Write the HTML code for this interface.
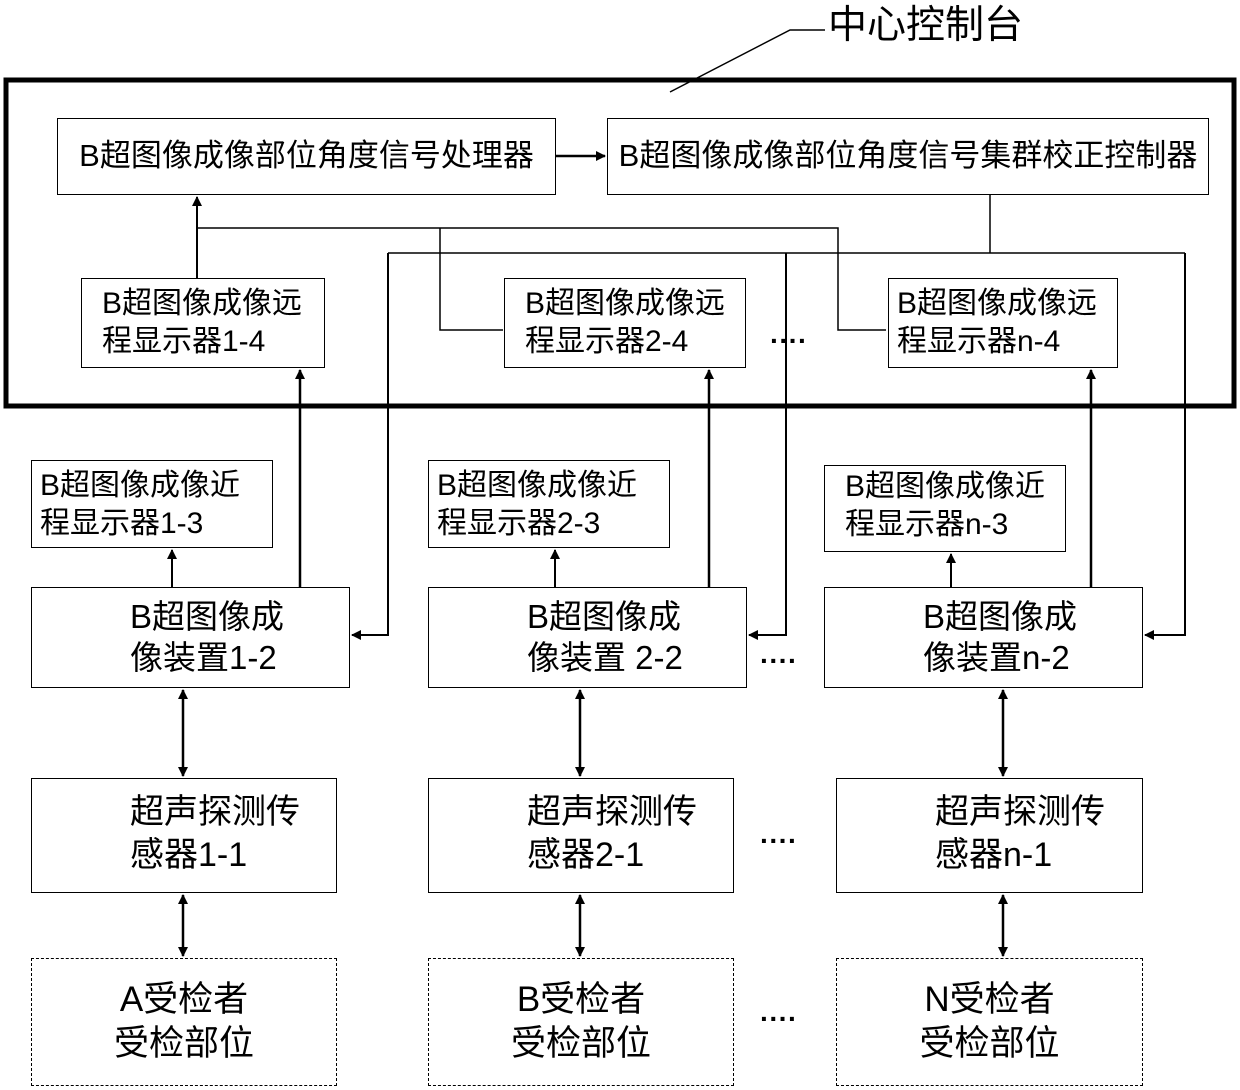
<!DOCTYPE html>
<html><head><meta charset="utf-8"><style>
body{margin:0;background:#fff;}
.b{position:absolute;border:1.5px solid #000;box-sizing:border-box;background:#fff;font-family:"Liberation Sans","Noto Sans CJK SC",sans-serif;color:#000;line-height:1.25;white-space:nowrap;}
.d{border-style:dashed;}
.c{display:flex;align-items:center;justify-content:center;}
</style></head><body>
<div style="position:relative;width:1240px;height:1090px;overflow:hidden;">
<svg width="1240" height="1090" style="position:absolute;left:0;top:0">
<defs><marker id="a" markerWidth="10" markerHeight="10" refX="9" refY="5" orient="auto-start-reverse" markerUnits="userSpaceOnUse"><path d="M0,0 L10,5 L0,10 z" fill="#000"/></marker></defs>
<rect x="6" y="80" width="1228" height="326" fill="none" stroke="#000" stroke-width="5"/>
<g stroke="#000" stroke-width="1.5" fill="none">
<path d="M670,92 L790,30 L825,30"/>
<line x1="556" y1="156" x2="605" y2="156" stroke-width="2.5" marker-end="url(#a)"/>
<line x1="197" y1="278" x2="197" y2="197" stroke-width="2" marker-end="url(#a)"/>
<path d="M197,228 L838,228 L838,330 L886,330"/>
<path d="M440,228 L440,330 L503,330"/>
<path d="M990,195 L990,253"/>
<path d="M388,253 L1185,253"/>
<path d="M388,253 L388,635 L352,635" marker-end="url(#a)" stroke-width="2"/>
<path d="M786,253 L786,635 L749,635" marker-end="url(#a)" stroke-width="2"/>
<path d="M1185,253 L1185,635 L1145,635" marker-end="url(#a)" stroke-width="2"/>
<g stroke-width="2.5">
<line x1="300" y1="587" x2="300" y2="370" marker-end="url(#a)"/>
<line x1="709" y1="587" x2="709" y2="370" marker-end="url(#a)"/>
<line x1="1091" y1="587" x2="1091" y2="370" marker-end="url(#a)"/>
</g>
<line x1="172" y1="587" x2="172" y2="550" stroke-width="2" marker-end="url(#a)"/>
<line x1="555" y1="587" x2="555" y2="550" stroke-width="2" marker-end="url(#a)"/>
<line x1="951" y1="587" x2="951" y2="554" stroke-width="2" marker-end="url(#a)"/>
<g stroke-width="2.5" marker-start="url(#a)" marker-end="url(#a)">
<line x1="183" y1="690" x2="183" y2="776"/>
<line x1="580" y1="690" x2="580" y2="776"/>
<line x1="1003" y1="690" x2="1003" y2="776"/>
<line x1="183" y1="895" x2="183" y2="956"/>
<line x1="580" y1="895" x2="580" y2="956"/>
<line x1="1003" y1="895" x2="1003" y2="956"/>
</g>
</g>
<g fill="#000" font-family="Liberation Sans" font-weight="bold" font-size="28">
<text x="770" y="350">····</text><text x="760" y="670">····</text><text x="760" y="850">····</text><text x="760" y="1028">····</text>
</g>
<text x="828" y="38" font-family="Liberation Sans,Noto Sans CJK SC,sans-serif" font-size="39">中心控制台</text>
</svg>
<div class="b c" style="left:57px;top:118px;width:499px;height:77px;font-size:31px">B超图像成像部位角度信号处理器</div>
<div class="b c" style="left:607px;top:118px;width:602px;height:77px;font-size:31px">B超图像成像部位角度信号集群校正控制器</div>
<div class="b" style="left:81px;top:278px;width:244px;height:90px;font-size:30px;padding:6px 0 0 20px">B超图像成像远<br>程显示器1-4</div>
<div class="b" style="left:504px;top:278px;width:242px;height:90px;font-size:30px;padding:6px 0 0 20px">B超图像成像远<br>程显示器2-4</div>
<div class="b" style="left:888px;top:278px;width:230px;height:90px;font-size:30px;padding:6px 0 0 8px">B超图像成像远<br>程显示器n-4</div>
<div class="b" style="left:31px;top:460px;width:242px;height:88px;font-size:30px;padding:6px 0 0 8px">B超图像成像近<br>程显示器1-3</div>
<div class="b" style="left:428px;top:460px;width:242px;height:88px;font-size:30px;padding:6px 0 0 8px">B超图像成像近<br>程显示器2-3</div>
<div class="b" style="left:824px;top:465px;width:242px;height:87px;font-size:30px;padding:2px 0 0 20px">B超图像成像近<br>程显示器n-3</div>
<div class="b" style="left:31px;top:587px;width:319px;height:101px;font-size:33px;padding:8px 0 0 98px">B超图像成<br>像装置1-2</div>
<div class="b" style="left:428px;top:587px;width:319px;height:101px;font-size:33px;padding:8px 0 0 98px">B超图像成<br>像装置 2-2</div>
<div class="b" style="left:824px;top:587px;width:319px;height:101px;font-size:33px;padding:8px 0 0 98px">B超图像成<br>像装置n-2</div>
<div class="b" style="left:31px;top:778px;width:306px;height:115px;font-size:34px;padding:12px 0 0 98px">超声探测传<br>感器1-1</div>
<div class="b" style="left:428px;top:778px;width:306px;height:115px;font-size:34px;padding:12px 0 0 98px">超声探测传<br>感器2-1</div>
<div class="b" style="left:836px;top:778px;width:307px;height:115px;font-size:34px;padding:12px 0 0 98px">超声探测传<br>感器n-1</div>
<div class="b d c" style="left:31px;top:958px;width:306px;height:128px;font-size:35px;text-align:center">A受检者<br>受检部位</div>
<div class="b d c" style="left:428px;top:958px;width:306px;height:128px;font-size:35px;text-align:center">B受检者<br>受检部位</div>
<div class="b d c" style="left:836px;top:958px;width:307px;height:128px;font-size:35px;text-align:center">N受检者<br>受检部位</div>
</div>
</body></html>
